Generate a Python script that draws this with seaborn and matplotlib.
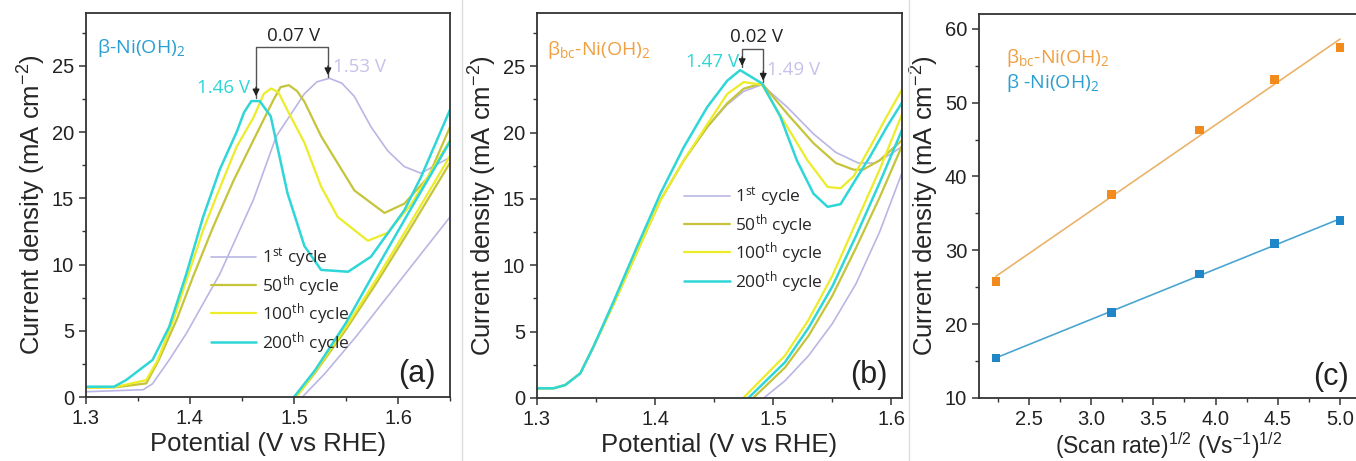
import matplotlib
matplotlib.use("Agg")
from matplotlib import pyplot as plt
from matplotlib.lines import Line2D
from matplotlib.ticker import MultipleLocator
import numpy as np
import pandas as pd
import seaborn as sns

# ---- panel (a): beta-Ni(OH)2, forward (f) and reverse (r) branches ----
a_c1_fx = [1.30, 1.355, 1.364, 1.38, 1.3965, 1.4287, 1.461, 1.483, 1.51, 1.522, 1.534, 1.546, 1.558, 1.574, 1.59, 1.606, 1.622, 1.65]
a_c1_fy = [0.4, 0.55, 1.0, 2.8, 4.8, 9.3, 14.9, 19.7, 22.9, 23.8, 24.07, 23.7, 22.7, 20.4, 18.6, 17.4, 16.9, 18.1]
a_c50_fx = [1.30, 1.33, 1.358, 1.37, 1.387, 1.403, 1.422, 1.4416, 1.461, 1.48, 1.487, 1.495, 1.503, 1.51, 1.526, 1.558, 1.587, 1.606, 1.629, 1.65]
a_c50_fy = [0.7, 0.75, 1.03, 2.8, 5.8, 9.1, 12.8, 16.3, 19.4, 22.4, 23.4, 23.55, 23.1, 22.3, 19.7, 15.6, 13.9, 14.6, 16.6, 20.4]
a_c100_fx = [1.30, 1.326, 1.358, 1.369, 1.384, 1.3965, 1.4126, 1.4287, 1.4448, 1.461, 1.471, 1.478, 1.485, 1.494, 1.51, 1.526, 1.542, 1.571, 1.59, 1.613, 1.65]
a_c100_fy = [0.7, 0.72, 1.28, 2.8, 5.8, 8.8, 12.6, 15.8, 18.9, 21.1, 22.9, 23.3, 23.0, 21.6, 19.2, 15.9, 13.6, 11.8, 12.4, 14.6, 19.4]
a_c200_fx = [1.30, 1.327, 1.3386, 1.364, 1.38, 1.3965, 1.4126, 1.4287, 1.4448, 1.452, 1.459, 1.467, 1.4776, 1.4937, 1.51, 1.526, 1.552, 1.574, 1.606, 1.622, 1.65]
a_c200_fy = [0.78, 0.78, 1.28, 2.8, 5.3, 9.3, 13.6, 17.2, 20.0, 21.5, 22.35, 22.35, 21.2, 15.4, 11.4, 9.6, 9.46, 10.6, 14.1, 16.6, 21.7]
a_c1_rx = [1.508, 1.53, 1.56, 1.59, 1.62, 1.65]
a_c1_ry = [0, 1.8, 4.6, 7.6, 10.6, 13.6]
a_c50_rx = [1.502, 1.52, 1.55, 1.58, 1.61, 1.65]
a_c50_ry = [0, 1.8, 5.1, 8.7, 12.5, 17.7]
a_c100_rx = [1.502, 1.52, 1.55, 1.58, 1.61, 1.65]
a_c100_ry = [0, 1.9, 5.3, 9.0, 12.9, 18.2]
a_c200_rx = [1.50, 1.52, 1.55, 1.58, 1.61, 1.65]
a_c200_ry = [0, 2.0, 5.6, 9.8, 13.9, 19.3]

# ---- panel (b): beta_bc-Ni(OH)2 ----
b_fx_rise = [1.30, 1.314, 1.324, 1.3367, 1.348, 1.365, 1.3847, 1.4045, 1.4243, 1.444, 1.461]
b_c1_fx = b_fx_rise + [1.475, 1.4904, 1.512, 1.534, 1.553, 1.572, 1.586, 1.60, 1.61]
b_c1_fy = [0.73, 0.73, 0.98, 1.86, 3.9, 7.1, 11.0, 14.9, 17.9, 20.4, 22.1, 23.1, 23.6, 21.9, 19.9, 18.5, 17.7, 17.7, 18.4, 19.0]
b_c50_fx = b_fx_rise + [1.475, 1.4904, 1.512, 1.534, 1.553, 1.568, 1.576, 1.59, 1.61]
b_c50_fy = [0.73, 0.73, 0.98, 1.86, 3.9, 7.1, 11.0, 14.9, 17.9, 20.4, 22.2, 23.3, 23.7, 21.4, 19.2, 17.7, 17.2, 17.2, 17.9, 19.5]
b_c100_fx = b_fx_rise + [1.475, 1.4904, 1.512, 1.529, 1.546, 1.557, 1.568, 1.582, 1.596, 1.61]
b_c100_fy = [0.73, 0.73, 0.98, 1.86, 3.9, 7.1, 11.0, 14.9, 17.9, 20.6, 22.9, 23.8, 23.6, 20.4, 17.9, 15.9, 15.8, 16.7, 18.9, 21.2, 23.4]
b_c200_fx = b_fx_rise + [1.472, 1.4904, 1.506, 1.52, 1.534, 1.546, 1.557, 1.568, 1.582, 1.596, 1.61]
b_c200_fy = [0.73, 0.73, 0.98, 1.86, 3.9, 7.3, 11.4, 15.4, 18.9, 21.9, 23.9, 24.7, 23.7, 21.2, 17.9, 15.4, 14.4, 14.6, 16.2, 18.2, 20.4, 22.4]
b_c1_rx = [1.492, 1.51, 1.53, 1.55, 1.57, 1.59, 1.61]
b_c1_ry = [0, 1.3, 3.2, 5.6, 8.6, 12.5, 17.2]
b_c50_rx = [1.483, 1.51, 1.53, 1.55, 1.57, 1.59, 1.61]
b_c50_ry = [0, 2.3, 4.7, 7.7, 11.3, 15.1, 19.2]
b_c100_rx = [1.4746, 1.51, 1.53, 1.55, 1.57, 1.59, 1.61]
b_c100_ry = [0, 3.2, 5.9, 9.2, 13.2, 17.2, 21.6]
b_c200_rx = [1.479, 1.51, 1.53, 1.55, 1.57, 1.59, 1.61]
b_c200_ry = [0, 2.7, 5.3, 8.4, 12.2, 16.2, 20.4]

# ---- panel (c): peak current vs sqrt(scan rate) ----
sqrt_scan = [2.236, 3.162, 3.873, 4.472, 5.0]
j_bc = [25.8, 37.6, 46.3, 53.1, 57.5]
j_beta = [15.4, 21.6, 26.8, 30.9, 34.0]

cycle_labels = ["1$^{st}$ cycle", "50$^{th}$ cycle", "100$^{th}$ cycle", "200$^{th}$ cycle"]
cycle_colors = ["#bab6e4", "#c5c43a", "#ecec28", "#2fd6d8"]
cycle_lw = [1.2, 1.6, 1.6, 1.8]

sns.set_style("ticks")
plt.rcParams["font.family"] = ["Liberation Sans", "DejaVu Sans"]
plt.rcParams["mathtext.default"] = "regular"
plt.rcParams["axes.edgecolor"] = "#333333"
plt.rcParams["axes.linewidth"] = 1.3
for k in ["xtick", "ytick"]:
    plt.rcParams[f"{k}.direction"] = "out"
    plt.rcParams[f"{k}.color"] = "#333333"
    plt.rcParams[f"{k}.labelcolor"] = "#222222"
    plt.rcParams[f"{k}.labelsize"] = 14.5
    plt.rcParams[f"{k}.major.size"] = 5
    plt.rcParams[f"{k}.minor.size"] = 3
    plt.rcParams[f"{k}.major.width"] = 1.1
    plt.rcParams[f"{k}.minor.width"] = 1.0

HUM = ["Open Sans", "DejaVu Sans"]
LBL = 18.5

fig = plt.figure(figsize=(13.56, 4.61), dpi=100)
ax_a = fig.add_axes([0.0634, 0.1388, 0.2685, 0.833])
ax_b = fig.add_axes([0.3960, 0.1367, 0.2692, 0.835])
ax_c = fig.add_axes([0.7220, 0.1367, 0.2800, 0.833])


def draw_cycles(ax, fwd, rev):
    for (fx, fy), (rx, ry), lab, col, lw in zip(fwd, rev, cycle_labels, cycle_colors, cycle_lw):
        sns.lineplot(x=fx, y=fy, sort=False, estimator=None, color=col, lw=lw, label=lab, ax=ax)
        sns.lineplot(x=rx, y=ry, sort=False, estimator=None, color=col, lw=lw, ax=ax)


def style_cv(ax, xmax):
    ax.set_xlim(1.3, xmax)
    ax.set_ylim(0, 29)
    ax.xaxis.set_major_locator(MultipleLocator(0.1))
    ax.xaxis.set_minor_locator(MultipleLocator(0.05))
    ax.yaxis.set_major_locator(MultipleLocator(5))
    ax.yaxis.set_minor_locator(MultipleLocator(2.5))
    ax.set_xlabel("Potential (V vs RHE)", fontsize=LBL, labelpad=3)
    ax.set_ylabel("Current density (mA cm$^{-2}$)", fontsize=LBL, labelpad=3)


def cycle_legend(ax, anchor):
    ax.legend(loc="upper left", bbox_to_anchor=anchor, frameon=False, handlelength=2.6,
              handletextpad=0.3, labelspacing=0.15, borderaxespad=0,
              prop={"family": HUM, "size": 12.5})


draw_cycles(ax_a,
            [(a_c1_fx, a_c1_fy), (a_c50_fx, a_c50_fy), (a_c100_fx, a_c100_fy), (a_c200_fx, a_c200_fy)],
            [(a_c1_rx, a_c1_ry), (a_c50_rx, a_c50_ry), (a_c100_rx, a_c100_ry), (a_c200_rx, a_c200_ry)])
style_cv(ax_a, 1.65)
cycle_legend(ax_a, (0.325, 0.41))
ax_a.text(0.03, 0.91, "β-Ni(OH)$_2$", transform=ax_a.transAxes, color="#2c9fd2",
          fontsize=14, family=HUM, va="center")
ax_a.text(0.96, 0.06, "(a)", transform=ax_a.transAxes, fontsize=22, ha="right", va="center", color="#222222")

# peak shift bracket (a)
ax_a.plot([1.4635, 1.4635, 1.5326, 1.5326], [22.6, 26.4, 26.4, 24.2], color="#555555", lw=1.0)
ax_a.annotate("", xy=(1.4635, 22.5), xytext=(1.4635, 23.6),
              arrowprops=dict(arrowstyle="-|>", color="#222222", lw=1.0, mutation_scale=10))
ax_a.annotate("", xy=(1.5326, 24.1), xytext=(1.5326, 25.2),
              arrowprops=dict(arrowstyle="-|>", color="#222222", lw=1.0, mutation_scale=10))
ax_a.text(1.4998, 27.3, "0.07 V", ha="center", va="center", fontsize=13.5, family=HUM, color="#222222")
ax_a.text(1.458, 23.3, "1.46 V", ha="right", va="center", fontsize=13.5, family=HUM, color="#2fd6d8")
ax_a.text(1.537, 24.9, "1.53 V", ha="left", va="center", fontsize=13.5, family=HUM, color="#c6c2ea")

draw_cycles(ax_b,
            [(b_c1_fx, b_c1_fy), (b_c50_fx, b_c50_fy), (b_c100_fx, b_c100_fy), (b_c200_fx, b_c200_fy)],
            [(b_c1_rx, b_c1_ry), (b_c50_rx, b_c50_ry), (b_c100_rx, b_c100_ry), (b_c200_rx, b_c200_ry)])
style_cv(ax_b, 1.609)
cycle_legend(ax_b, (0.385, 0.57))
ax_b.text(0.027, 0.904, "β$_{bc}$-Ni(OH)$_2$", transform=ax_b.transAxes, color="#f0a040",
          fontsize=14, family=HUM, va="center")
ax_b.text(0.96, 0.06, "(b)", transform=ax_b.transAxes, fontsize=22, ha="right", va="center", color="#222222")

ax_b.plot([1.4737, 1.4737, 1.4915, 1.4915], [24.9, 26.3, 26.3, 23.8], color="#555555", lw=1.0)
ax_b.annotate("", xy=(1.4737, 24.8), xytext=(1.4737, 25.9),
              arrowprops=dict(arrowstyle="-|>", color="#222222", lw=1.0, mutation_scale=10))
ax_b.annotate("", xy=(1.4915, 23.7), xytext=(1.4915, 24.8),
              arrowprops=dict(arrowstyle="-|>", color="#222222", lw=1.0, mutation_scale=10))
ax_b.text(1.4856, 27.2, "0.02 V", ha="center", va="center", fontsize=13.5, family=HUM, color="#222222")
ax_b.text(1.4715, 25.3, "1.47 V", ha="right", va="center", fontsize=13.5, family=HUM, color="#2fd6d8")
ax_b.text(1.495, 24.7, "1.49 V", ha="left", va="center", fontsize=13.5, family=HUM, color="#c6c2ea")

# panel (c)
df_c = pd.DataFrame({"x": sqrt_scan * 2, "j": j_bc + j_beta,
                     "sample": ["bc"] * len(j_bc) + ["beta"] * len(j_beta)})
for s, mcol, lcol in [("bc", "#f28a1e", "#ebb36a"), ("beta", "#1f86c8", "#4aa6d0")]:
    sub = df_c[df_c["sample"] == s]
    sns.regplot(data=sub, x="x", y="j", ci=None, scatter=False, ax=ax_c,
                line_kws={"color": lcol, "lw": 1.2})
    sns.scatterplot(data=sub, x="x", y="j", marker="s", s=40, color=mcol, edgecolor="none", ax=ax_c, zorder=3)
ax_c.set_xlim(2.1, 5.15)
ax_c.set_ylim(10, 62)
ax_c.xaxis.set_major_locator(MultipleLocator(0.5))
ax_c.xaxis.set_minor_locator(MultipleLocator(0.25))
ax_c.yaxis.set_major_locator(MultipleLocator(10))
ax_c.yaxis.set_minor_locator(MultipleLocator(5))
ax_c.set_xlabel("(Scan rate)$^{1/2}$ (Vs$^{-1}$)$^{1/2}$", fontsize=16.5, labelpad=1)
ax_c.set_ylabel("Current density (mA cm$^{-2}$)", fontsize=LBL, labelpad=3)
ax_c.text(0.07, 0.885, "β$_{bc}$-Ni(OH)$_2$", transform=ax_c.transAxes, color="#f0a040",
          fontsize=14, family=HUM, va="center")
ax_c.text(0.07, 0.82, "β -Ni(OH)$_2$", transform=ax_c.transAxes, color="#2c9fd2",
          fontsize=14, family=HUM, va="center")
ax_c.text(0.975, 0.055, "(c)", transform=ax_c.transAxes, fontsize=22, ha="right", va="center", color="#222222")

# thin panel separators
for xf in [462 / 1356, 909 / 1356]:
    fig.add_artist(Line2D([xf, xf], [0.0, 1.0], color="#dddddd", lw=1.0))

fig.savefig("out.png", dpi=100)
